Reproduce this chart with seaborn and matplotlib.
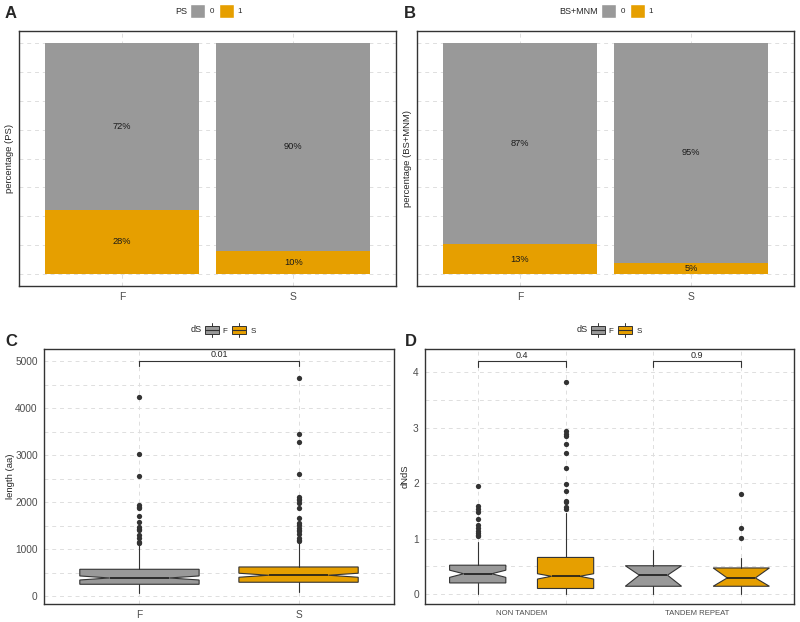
import numpy as np
import pandas as pd
import seaborn as sns
import matplotlib.pyplot as plt
from matplotlib.patches import Patch, Rectangle
from matplotlib.lines import Line2D
from matplotlib.legend_handler import HandlerBase

# ---- data ----
groups = ["F", "S"]
fill_levels = ["0", "1"]
ps_pct = [28, 10]          # share of "1" (orange) for panel A
bsmnm_pct = [13, 5]        # share of "1" (orange) for panel B

# panel C: protein length, boxes for F and S
len_q1 = [255, 298]
len_med = [389, 447]
len_q3 = [574, 623]
len_lo = [77, 98]
len_hi = [1100, 1150]
len_notch = [43, 43]
len_out_F = [4250, 3030, 2560, 1940, 1900, 1870, 1700, 1570, 1480, 1440,
             1400, 1310, 1240, 1160, 1130]
len_out_S = [4640, 3450, 3290, 2600, 2110, 2080, 2050, 1980, 1870, 1660,
             1560, 1520, 1450, 1420, 1390, 1320, 1250, 1200, 1170]
len_pval = ["0.01"]

# panel D: dN/dS, order NT-F, NT-S, TR-F, TR-S
dnds_cats = ["NON TANDEM", "TANDEM REPEAT"]
dnds_q1 = [0.20, 0.10, 0.14, 0.14]
dnds_med = [0.366, 0.32, 0.34, 0.29]
dnds_q3 = [0.52, 0.66, 0.51, 0.47]
dnds_lo = [0.0, 0.0, 0.0, 0.0]
dnds_hi = [0.94, 1.47, 0.79, 0.65]
dnds_cilo = [0.30, 0.27, 0.14, 0.14]
dnds_cihi = [0.43, 0.366, 0.51, 0.47]
dnds_out = [
    [1.94, 1.59, 1.53, 1.48, 1.35, 1.24, 1.20, 1.14, 1.10, 1.07, 1.05],
    [3.83, 2.94, 2.89, 2.85, 2.71, 2.54, 2.28, 1.98, 1.85, 1.68, 1.66, 1.57, 1.54],
    [],
    [1.80, 1.20, 1.01],
]
dnds_pval = ["0.4", "0.9"]

GREY = "#999999"
ORANGE = "#E69F00"
INK = "#333333"
GRID = "#DEDEDE"
TICK = "#4D4D4D"

sns.set_theme(style="white")
plt.rcParams["font.family"] = ["Liberation Sans", "DejaVu Sans"]

W, H = 800, 622
fig = plt.figure(figsize=(8, 6.22), dpi=100)


def px_rect(left, top, right, bottom):
    return [left / W, 1 - bottom / H, (right - left) / W, (bottom - top) / H]


def style_axes(ax):
    for s in ax.spines.values():
        s.set_color(INK)
        s.set_linewidth(1.0)
    ax.set_axisbelow(True)
    ax.grid(True, which="both", color=GRID, linestyle=(0, (4, 4)), linewidth=0.7)
    ax.tick_params(axis="both", which="major", length=2.5, width=0.6, color=INK,
                   labelcolor=TICK, pad=2)
    ax.tick_params(axis="both", which="minor", length=0)


def bar_panel(rect, pct, ylab, letter, letter_xy, leg_title, title_x, leg_x):
    ax = fig.add_axes(rect)
    df = pd.DataFrame({"grp": groups, "one": pct,
                       "zero": [100 - p for p in pct], "total": [100] * len(pct)})
    sns.barplot(data=df, x="grp", y="total", color=GREY, saturation=1, width=0.9,
                linewidth=0, ax=ax)
    sns.barplot(data=df, x="grp", y="one", color=ORANGE, saturation=1, width=0.9,
                linewidth=0, ax=ax)
    for i, row in df.iterrows():
        ax.text(i, row.one + row.zero / 2, f"{row.zero}%", ha="center", va="center",
                fontsize=6.7, color="#1A1A1A")
        ax.text(i, row.one / 2, f"{row.one}%", ha="center", va="center",
                fontsize=6.7, color="#1A1A1A")
    ax.set_xlim(-0.6, 1.6)
    ax.set_ylim(-5, 105)
    ax.set_yticks([0, 25, 50, 75, 100])
    ax.set_yticks([12.5, 37.5, 62.5, 87.5], minor=True)
    ax.set_yticklabels([])
    style_axes(ax)
    ax.tick_params(axis="y", which="major", length=0)
    ax.tick_params(axis="x", labelsize=7.5)
    ax.set_xlabel("")
    ax.set_ylabel(ylab, fontsize=6.8)
    ax.yaxis.set_label_coords(-0.012, 0.5)
    fig.text(letter_xy[0] / W, 1 - letter_xy[1] / H, letter, fontsize=12,
             fontweight="bold", ha="center", va="center")
    fig.text(title_x / W, 1 - 11 / H, leg_title, fontsize=6.5, ha="right", va="center")
    handles = [Patch(facecolor=GREY), Patch(facecolor=ORANGE)]
    fig.legend(handles, fill_levels, loc="center left",
               bbox_to_anchor=(leg_x / W, 1 - 11 / H), ncol=2, frameon=False,
               fontsize=5.8, handlelength=1.9, handleheight=2.4, handletextpad=0.5,
               columnspacing=0.6, borderpad=0, borderaxespad=0)
    return ax


bar_panel(px_rect(19, 31, 396, 286), ps_pct, "percentage (PS)", "A", (11, 14),
          "PS", 187, 190)
bar_panel(px_rect(417, 31, 794, 286), bsmnm_pct, "percentage (BS+MNM)", "B", (410, 14),
          "BS+MNM", 598, 601)


def box_stats(q1, med, q3, lo, hi, cilo, cihi, fliers):
    return dict(q1=q1, med=med, q3=q3, whislo=lo, whishi=hi, cilo=cilo, cihi=cihi,
                fliers=np.array(fliers))


def draw_boxes(ax, stats, positions, width):
    bp = ax.bxp(stats, positions=positions, widths=width, patch_artist=True,
                shownotches=True, showcaps=False, manage_ticks=False,
                medianprops=dict(color="#1A1A1A", linewidth=1.2),
                whiskerprops=dict(color=INK, linewidth=0.8),
                flierprops=dict(marker="o", markersize=3.8, markerfacecolor=INK,
                                markeredgecolor="none"),
                boxprops=dict(edgecolor=INK, linewidth=0.8))
    for i, patch in enumerate(bp["boxes"]):
        patch.set_facecolor([GREY, ORANGE][i % 2])
    return bp


class BoxKey(HandlerBase):
    # small boxplot glyph for the legend, like ggplot's key
    def create_artists(self, legend, orig_handle, xdescent, ydescent, width, height,
                       fontsize, trans):
        x0, y0 = -xdescent, -ydescent
        fc = orig_handle.get_facecolor()
        box = Rectangle((x0, y0 + height * 0.15), width, height * 0.7, facecolor=fc,
                        edgecolor=INK, linewidth=0.7, transform=trans)
        med = Line2D([x0, x0 + width], [y0 + height / 2] * 2, color=INK,
                     linewidth=0.8, transform=trans)
        top = Line2D([x0 + width / 2] * 2, [y0 + height * 0.85, y0 + height * 1.05],
                     color=INK, linewidth=0.7, transform=trans)
        bot = Line2D([x0 + width / 2] * 2, [y0 - height * 0.05, y0 + height * 0.15],
                     color=INK, linewidth=0.7, transform=trans)
        return [box, med, top, bot]


def box_legend(title_x, leg_x):
    fig.text(title_x / W, 1 - 330 / H, "dS", fontsize=6.5, ha="right", va="center")
    handles = [Patch(facecolor=c) for c in (GREY, ORANGE)]
    fig.legend(handles, groups, loc="center left",
               bbox_to_anchor=(leg_x / W, 1 - 330 / H), ncol=2, frameon=False,
               fontsize=5.8, handlelength=1.7, handleheight=2.0, handletextpad=0.5,
               columnspacing=0.6, borderpad=0, borderaxespad=0,
               handler_map={Patch: BoxKey()})


# ---- panel C ----
axc = fig.add_axes(px_rect(44, 349, 394, 604))
c_out = [len_out_F, len_out_S]
c_stats = [box_stats(len_q1[i], len_med[i], len_q3[i], len_lo[i], len_hi[i],
                     len_med[i] - len_notch[i], len_med[i] + len_notch[i], c_out[i])
           for i in range(len(groups))]
draw_boxes(axc, c_stats, [0, 1], 0.75)
axc.set_xlim(-0.6, 1.6)
axc.set_ylim(-165, 5262)
axc.set_xticks([0, 1])
axc.set_xticklabels(groups)
axc.set_yticks(np.arange(0, 5001, 1000))
axc.set_yticks(np.arange(500, 5000, 1000), minor=True)
style_axes(axc)
axc.tick_params(axis="both", labelsize=7.3)
axc.set_ylabel("length (aa)", fontsize=6.8)
axc.yaxis.set_label_coords(-0.083, 0.5)
axc.plot([0, 0, 1, 1], [4890, 5000, 5000, 4890], color=INK, linewidth=0.8)
axc.text(0.5, 5040, len_pval[0], ha="center", va="bottom", fontsize=6.5)
fig.text(11 / W, 1 - 342 / H, "C", fontsize=12, fontweight="bold", ha="center", va="center")
box_legend(202, 205)

# ---- panel D ----
axd = fig.add_axes(px_rect(425, 349, 794, 604))
dodge = [-0.25, 0.25]
d_pos = [g + d for g in range(len(dnds_cats)) for d in dodge]
d_stats = [box_stats(dnds_q1[i], dnds_med[i], dnds_q3[i], dnds_lo[i], dnds_hi[i],
                     dnds_cilo[i], dnds_cihi[i], dnds_out[i]) for i in range(len(d_pos))]
draw_boxes(axd, d_stats, d_pos, 0.32)
axd.set_xlim(-0.55, 1.55)
axd.set_ylim(-0.18, 4.42)
axd.set_xticks(range(len(dnds_cats)))
axd.set_xticklabels(dnds_cats)
axd.set_xticks(d_pos, minor=True)
axd.set_yticks(range(0, 5))
axd.set_yticks(np.arange(0.5, 4.5, 1), minor=True)
style_axes(axd)
axd.grid(False, which="major", axis="x")
axd.tick_params(axis="x", which="major", length=0, labelsize=5.6, pad=4)
axd.tick_params(axis="y", labelsize=7.3)
axd.set_ylabel("dNdS", fontsize=6.8)
axd.yaxis.set_label_coords(-0.043, 0.5)
for g, p in enumerate(dnds_pval):
    x0, x1 = g + dodge[0], g + dodge[1]
    axd.plot([x0, x0, x1, x1], [4.1, 4.2, 4.2, 4.1], color=INK, linewidth=0.8)
    axd.text(g, 4.23, p, ha="center", va="bottom", fontsize=6.5)
fig.text(411 / W, 1 - 342 / H, "D", fontsize=12, fontweight="bold", ha="center", va="center")
box_legend(588, 591)

fig.savefig("out.png", dpi=100, facecolor="white")
